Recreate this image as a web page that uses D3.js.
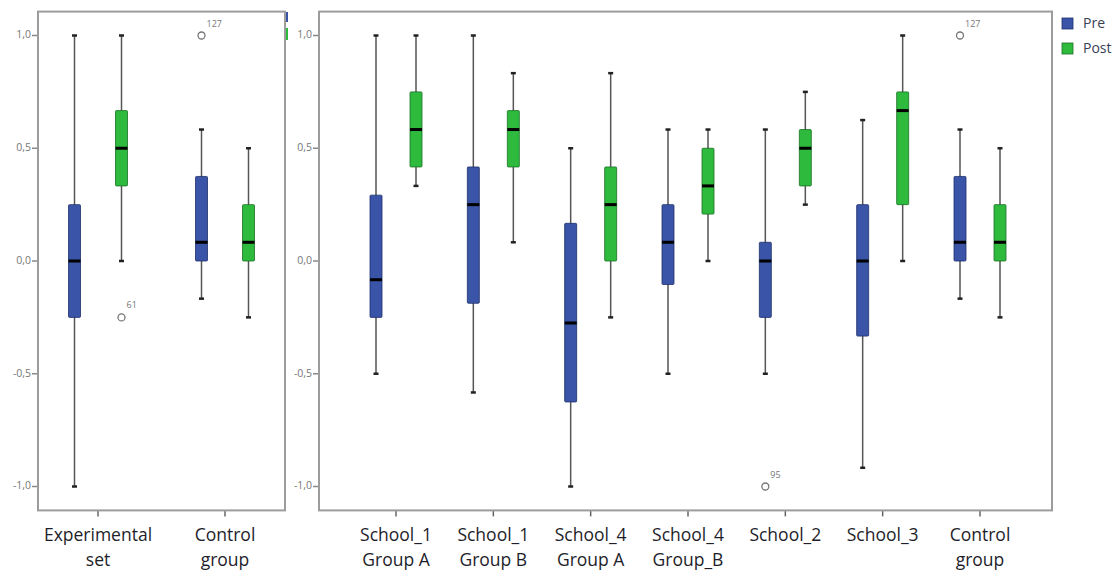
<!DOCTYPE html>
<html>
<head>
<meta charset="utf-8">
<script src="https://cdn.jsdelivr.net/npm/d3@7"></script>
<style>
body { margin: 0; background: #fff; }
svg { display: block; font-family: "Open Sans", sans-serif; }
.frame { fill: none; stroke: #9c9c9c; stroke-width: 2; }
.tick-label { font-size: 10.5px; fill: #777; }
.cat-label { font-size: 17.5px; fill: #1e1e2a; }
.out-label { font-size: 9px; fill: #777; }
.legend-text { font-size: 14px; fill: #3a3f55; }
</style>
</head>
<body>
<div class="chart"></div>
<script>
// box stats: [low whisker, q1, median, q3, high whisker]
var leftCats = ["Experimental set", "Control group"];
var leftPre  = [[-1, -0.25, 0, 0.25, 1], [-0.167, 0, 0.083, 0.375, 0.583]];
var leftPost = [[0, 0.333, 0.5, 0.667, 1], [-0.25, 0, 0.083, 0.25, 0.5]];
var leftOutliers = [
	{cat: "Experimental set", series: "Post", value: -0.25, label: "61"},
	{cat: "Control group", series: "Pre", value: 1, label: "127"}
];

var rightCats = ["School_1|Group A", "School_1|Group B", "School_4|Group A", "School_4|Group_B", "School_2", "School_3", "Control|group"];
var rightPre = [
	[-0.5, -0.25, -0.083, 0.292, 1],
	[-0.583, -0.1875, 0.25, 0.417, 1],
	[-1, -0.625, -0.275, 0.167, 0.5],
	[-0.5, -0.104, 0.083, 0.25, 0.583],
	[-0.5, -0.25, 0, 0.083, 0.583],
	[-0.917, -0.333, 0, 0.25, 0.625],
	[-0.167, 0, 0.083, 0.375, 0.583]
];
var rightPost = [
	[0.333, 0.417, 0.583, 0.75, 1],
	[0.083, 0.417, 0.583, 0.667, 0.833],
	[-0.25, 0, 0.25, 0.417, 0.833],
	[0, 0.208, 0.333, 0.5, 0.583],
	[0.25, 0.333, 0.5, 0.583, 0.75],
	[0, 0.25, 0.667, 0.75, 1],
	[-0.25, 0, 0.083, 0.25, 0.5]
];
var rightOutliers = [
	{cat: "School_2", series: "Pre", value: -1, label: "95"},
	{cat: "Control|group", series: "Pre", value: 1, label: "127"}
];

var series = ["Pre", "Post"];
var yTicks = [1, 0.5, 0, -0.5, -1];
var tickText = ["1,0", "0,5", "0,0", "-0,5", "-1,0"];

var width = 1118, height = 575;
var colors = {Pre: "#3a55a8", Post: "#2dba3d"};
var strokes = {Pre: "#1e2f6a", Post: "#1b6f25"};

var svg = d3.select(".chart").append("svg").attr("width", width).attr("height", height);

var y = d3.scaleLinear().domain([-1, 1]).range([486.5, 35.5]);

function drawPanel(cats, pre, post, outliers, left, right, xRange, off) {
	var g = svg.append("g");
	var x = d3.scalePoint().domain(cats).range(xRange);
	var top = y(1.106), bottom = y(-1.106);

	// y axis ticks
	yTicks.forEach(function(t, i) {
		g.append("line").attr("x1", left - 6).attr("x2", left).attr("y1", y(t)).attr("y2", y(t))
			.attr("stroke", "#888").attr("stroke-width", 1.5);
		g.append("text").attr("class", "tick-label").attr("x", left - 7).attr("y", y(t))
			.attr("text-anchor", "end").attr("dominant-baseline", "middle").text(tickText[i]);
	});

	// x ticks + labels
	cats.forEach(function(c) {
		g.append("line").attr("x1", x(c)).attr("x2", x(c)).attr("y1", bottom).attr("y2", bottom + 6)
			.attr("stroke", "#666").attr("stroke-width", 1.5);
		var parts = c.indexOf("|") >= 0 ? c.split("|") : c.split(" ");
		parts.forEach(function(p, j) {
			g.append("text").attr("class", "cat-label").attr("x", x(c)).attr("y", 541 + j * 24.5)
				.attr("text-anchor", "middle").text(p);
		});
	});

	var bw = 12;
	[pre, post].forEach(function(data, si) {
		var s = series[si];
		var dx = si == 0 ? -off : off;
		data.forEach(function(d, i) {
			var cx = x(cats[i]) + dx;
			// whisker
			g.append("line").attr("x1", cx).attr("x2", cx).attr("y1", y(d[0])).attr("y2", y(d[4]))
				.attr("stroke", "#555").attr("stroke-width", 1.5);
			[d[0], d[4]].forEach(function(v) {
				g.append("line").attr("x1", cx - 2.5).attr("x2", cx + 2.5).attr("y1", y(v)).attr("y2", y(v))
					.attr("stroke", "#222").attr("stroke-width", 2.5);
			});
			// box
			g.append("rect").attr("x", cx - bw / 2).attr("width", bw)
				.attr("y", y(d[3])).attr("height", y(d[1]) - y(d[3]))
				.attr("rx", 1).attr("fill", colors[s]).attr("stroke", strokes[s]).attr("stroke-width", 0.8);
			// median
			g.append("line").attr("x1", cx - bw / 2).attr("x2", cx + bw / 2).attr("y1", y(d[2])).attr("y2", y(d[2]))
				.attr("stroke", "#000").attr("stroke-width", 3);
		});
	});

	outliers.forEach(function(o) {
		var cx = x(o.cat) + (o.series == "Pre" ? -off : off);
		g.append("circle").attr("cx", cx).attr("cy", y(o.value)).attr("r", 3.5)
			.attr("fill", "#fff").attr("stroke", "#777").attr("stroke-width", 1.3);
		g.append("text").attr("class", "out-label").attr("x", cx + 5).attr("y", y(o.value) - 9).text(o.label);
	});

	g.append("rect").attr("class", "frame").attr("x", left).attr("y", top)
		.attr("width", right - left).attr("height", bottom - top);
}

// cut-off legend remnant of the first chart
svg.append("rect").attr("x", 285).attr("y", 12).attr("width", 3).attr("height", 10).attr("fill", colors.Pre);
svg.append("rect").attr("x", 285).attr("y", 28).attr("width", 3).attr("height", 12).attr("fill", colors.Post);

drawPanel(leftCats, leftPre, leftPost, leftOutliers, 38, 285, [98, 225], 23.5);
drawPanel(rightCats, rightPre, rightPost, rightOutliers, 319, 1052, [396, 980], 20);

// legend
series.forEach(function(s, i) {
	svg.append("rect").attr("x", 1062).attr("y", 18 + i * 25).attr("width", 11).attr("height", 11)
		.attr("fill", colors[s]).attr("stroke", strokes[s]).attr("stroke-width", 0.8);
	svg.append("text").attr("class", "legend-text").attr("x", 1083).attr("y", 28 + i * 25).text(s);
});
</script>
</body>
</html>
